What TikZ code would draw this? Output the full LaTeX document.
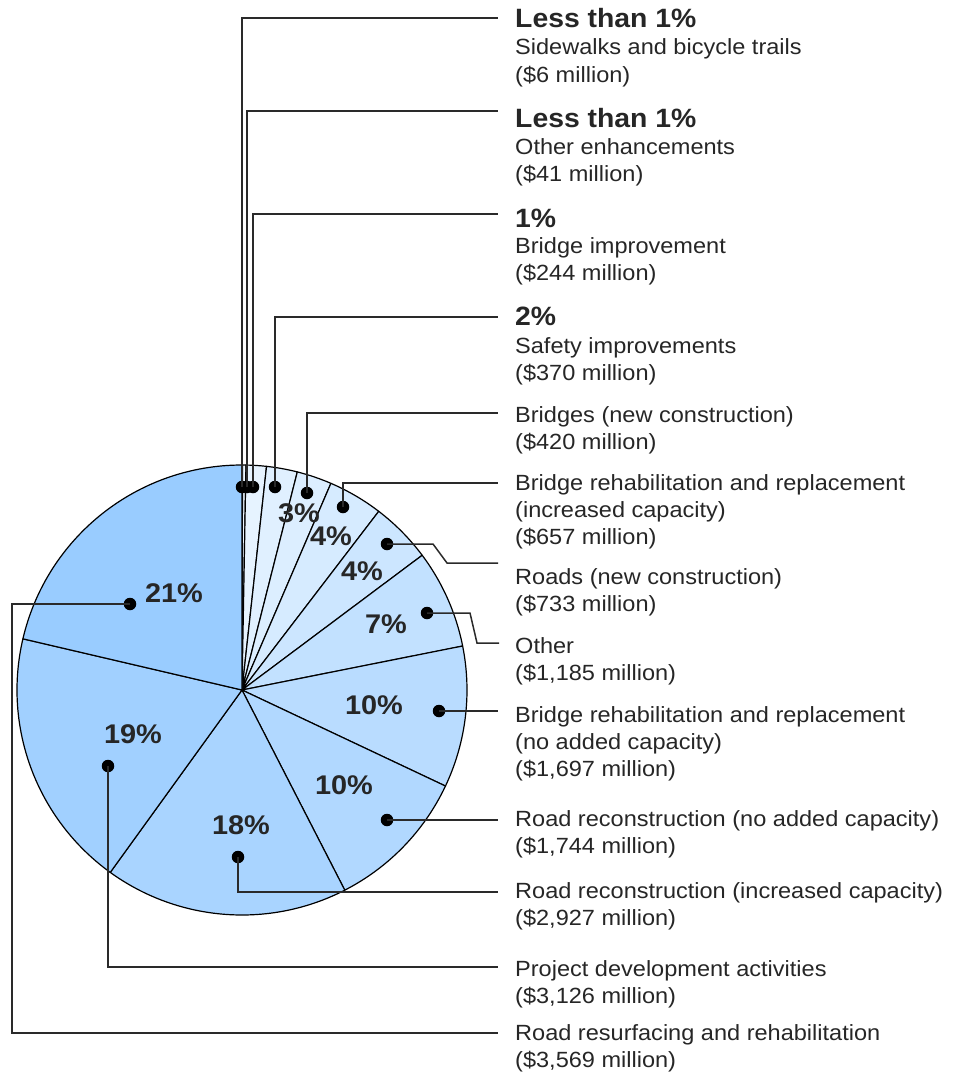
\documentclass[tikz,border=0pt]{standalone}
\usepackage{fontspec}
\setmainfont[FakeStretch=1.07]{Liberation Sans}
\definecolor{txt}{HTML}{262626}
\definecolor{leadc}{HTML}{2A2A2A}
\definecolor{s1}{HTML}{EBF5FF}
\definecolor{s2}{HTML}{EBF5FF}
\definecolor{s3}{HTML}{E6F3FF}
\definecolor{s4}{HTML}{E0F0FF}
\definecolor{s5}{HTML}{DCEEFF}
\definecolor{s6}{HTML}{D6EBFF}
\definecolor{s7}{HTML}{CCE6FF}
\definecolor{s8}{HTML}{C2E1FF}
\definecolor{s9}{HTML}{B9DCFF}
\definecolor{s10}{HTML}{B1D8FF}
\definecolor{s11}{HTML}{A9D4FF}
\definecolor{s12}{HTML}{A1D0FF}
\definecolor{s13}{HTML}{99CCFF}
\begin{document}
\begin{tikzpicture}[x=1pt,y=-1pt,
  wedge/.style={draw=black, line width=1.2pt, line join=round},
  pct/.style={font=\fontsize{27}{27}\selectfont\bfseries, text=txt, inner sep=0pt},
  head/.style={font=\fontsize{26.5}{27}\selectfont\bfseries, anchor=base west, inner sep=0pt, text=txt},
  lab/.style={font=\fontsize{22}{26}\selectfont, anchor=base west, inner sep=0pt, text=txt},
  dot/.style={circle, fill=black, inner sep=0pt, minimum size=12.5pt},
  lead/.style={draw=leadc, line width=1.5pt}]
\useasboundingbox (0,0) rectangle (959,1073);
\coordinate (C) at (242,690);
% pie wedges (angles in flipped system)
\foreach \s/\e/\c in {-90/-89.871/s1, -89.871/-88.988/s2, -88.988/-83.734/s3,
  -83.734/-75.767/s4, -75.767/-66.723/s5, -66.723/-52.576/s6, -52.576/-36.793/s7,
  -36.793/-11.277/s8, -11.277/25.264/s9, 25.264/62.817/s10, 62.817/125.842/s11,
  125.842/193.153/s12, 193.153/270/s13}{
  \filldraw[wedge, fill=\c] (C) -- ++(\s:225) arc[start angle=\s, end angle=\e, radius=225] -- cycle;
}
% percent labels
\node[pct] (p5) at (299,513) {3\%};
\node[pct] (p6) at (331,536) {4\%};
\node[pct] (p7) at (362,571) {4\%};
\node[pct] (p8) at (386,624) {7\%};
\node[pct] (p9) at (374,705) {10\%};
\node[pct] (p10) at (344,785) {10\%};
\node[pct] (p11) at (241,825) {18\%};
\node[pct] (p12) at (133,734) {19\%};
\node[pct] (p13) at (174,593) {21\%};
% leader end coordinates
\coordinate (e1) at (498,18);
\coordinate (e2) at (498,111);
\coordinate (e3) at (498,214);
\coordinate (e4) at (498,317);
\coordinate (e5) at (498,413);
\coordinate (e6) at (498,483);
\coordinate (e7) at (498,563);
\coordinate (e8) at (499,643);
\coordinate (e9) at (498,711);
\coordinate (e10) at (498,820);
\coordinate (e11) at (498,892);
\coordinate (e12) at (498,967);
\coordinate (e13) at (498,1033);
\coordinate (k7a) at (433,544);
\coordinate (k7b) at (447,563);
\coordinate (k8a) at (470,613);
\coordinate (k8b) at (477,643);
\coordinate (k13) at (12,604);
% dots
\node[dot] (d1) at (242,487) {};
\node[dot] (d2) at (247,487) {};
\node[dot] (d3) at (253,487) {};
\node[dot] (d4) at (275,487) {};
\node[dot] (d5) at (307,493) {};
\node[dot] (d6) at (343,507) {};
\node[dot] (d7) at (387,544) {};
\node[dot] (d8) at (427,613) {};
\node[dot] (d9) at (439,711) {};
\node[dot] (d10) at (387,820) {};
\node[dot] (d11) at (238,857) {};
\node[dot] (d12) at (108,766) {};
\node[dot] (d13) at (130,604) {};
% leaders
\draw[lead] (d1.center) |- (e1);
\draw[lead] (d2.center) |- (e2);
\draw[lead] (d3.center) |- (e3);
\draw[lead] (d4.center) |- (e4);
\draw[lead] (d5.center) |- (e5);
\draw[lead] (d6.center) |- (e6);
\draw[lead] (d7.center) -- (k7a) -- (k7b) -- (e7);
\draw[lead] (d8.center) -- (k8a) -- (k8b) -- (e8);
\draw[lead] (d9.center) -- (e9);
\draw[lead] (d10.center) -- (e10);
\draw[lead] (d11.center) |- (e11);
\draw[lead] (d12.center) |- (e12);
\draw[lead] (d13.center) -- (k13) |- (e13);
% labels
\node[head] (t1) at (515,28) {Less than 1\%};
\node[lab] (t1b) at (515,55) {Sidewalks and bicycle trails};
\node[lab] (t1c) at (515,82) {(\$6 million)};
\node[head] (t2) at (515,127) {Less than 1\%};
\node[lab] (t2b) at (515,154) {Other enhancements};
\node[lab] (t2c) at (515,181) {(\$41 million)};
\node[head] (t3) at (515,227) {1\%};
\node[lab] (t3b) at (515,253) {Bridge improvement};
\node[lab] (t3c) at (515,280) {(\$244 million)};
\node[head] (t4) at (515,325) {2\%};
\node[lab] (t4b) at (515,353) {Safety improvements};
\node[lab] (t4c) at (515,380) {(\$370 million)};
\node[lab] (t5) at (515,422) {Bridges (new construction)};
\node[lab] (t5b) at (515,449) {(\$420 million)};
\node[lab] (t6) at (515,490) {Bridge rehabilitation and replacement};
\node[lab] (t6b) at (515,517) {(increased capacity)};
\node[lab] (t6c) at (515,544) {(\$657 million)};
\node[lab] (t7) at (515,584) {Roads (new construction)};
\node[lab] (t7b) at (515,611) {(\$733 million)};
\node[lab] (t8) at (515,653) {Other};
\node[lab] (t8b) at (515,680) {(\$1,185 million)};
\node[lab] (t9) at (515,722) {Bridge rehabilitation and replacement};
\node[lab] (t9b) at (515,749) {(no added capacity)};
\node[lab] (t9c) at (515,776) {(\$1,697 million)};
\node[lab] (t10) at (515,826) {Road reconstruction (no added capacity)};
\node[lab] (t10b) at (515,853) {(\$1,744 million)};
\node[lab] (t11) at (515,898) {Road reconstruction (increased capacity)};
\node[lab] (t11b) at (515,925) {(\$2,927 million)};
\node[lab] (t12) at (515,976) {Project development activities};
\node[lab] (t12b) at (515,1003) {(\$3,126 million)};
\node[lab] (t13) at (515,1040) {Road resurfacing and rehabilitation};
\node[lab] (t13b) at (515,1067) {(\$3,569 million)};
\end{tikzpicture}
\end{document}
